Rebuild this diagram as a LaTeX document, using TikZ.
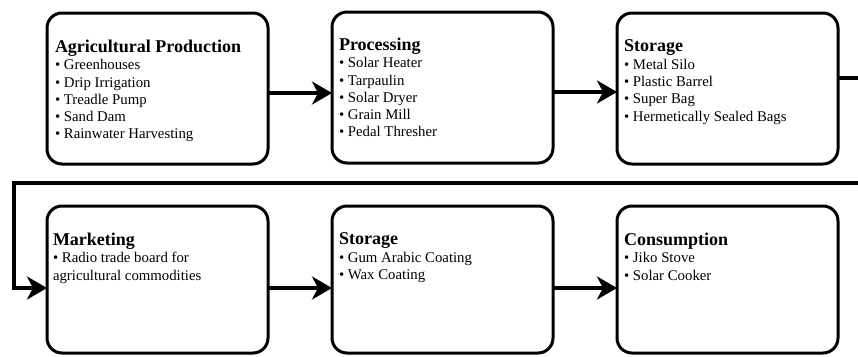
\documentclass[tikz,border=0pt]{standalone}
\usepackage{fontspec}
\setmainfont{Liberation Serif}
\usetikzlibrary{arrows.meta}
\begin{document}
\begin{tikzpicture}[x=1pt,y=-1pt,
  box/.style={draw=black, line width=3pt, rounded corners=15pt, minimum width=221pt,
    inner sep=0pt, outer sep=0pt, anchor=north west},
  toprow/.style={minimum height=151pt},
  botrow/.style={minimum height=147pt},
  boxtext/.style={anchor=north west, align=left, inner sep=0pt, outer sep=0pt,
    font=\fontsize{14.8}{17.3}\selectfont},
  ttl/.style={},
  conn/.style={line width=4.5pt, -{Stealth[length=20pt,width=23pt,inset=6pt]}}
]
\useasboundingbox (0,0) rectangle (858,356);
\fill[white] (0,0) rectangle (858,356);
\clip (0,0) rectangle (858,356);
\newcommand{\boxtitle}[1]{{\fontsize{18}{17.3}\selectfont\bfseries #1}}

% boxes
\node[box,toprow] (b1) at (47,13) {};
\node[box,toprow] (b2) at (332,12) {};
\node[box,toprow] (b3) at (617,13) {};
\node[box,botrow] (b4) at (47,206) {};
\node[box,botrow] (b5) at (332,206) {};
\node[box,botrow] (b6) at (617,206) {};

% texts
\node[boxtext] (t1) at ([xshift=8pt,yshift=-27pt]b1.north west)
  {\boxtitle{Agricultural Production}\\ • Greenhouses\\ • Drip Irrigation\\ • Treadle Pump\\ • Sand Dam\\ • Rainwater Harvesting};
\node[boxtext] (t2) at ([xshift=7pt,yshift=-26pt]b2.north west)
  {\boxtitle{Processing}\\ • Solar Heater\\ • Tarpaulin\\ • Solar Dryer\\ • Grain Mill\\ • Pedal Thresher};
\node[boxtext] (t3) at ([xshift=7pt,yshift=-27pt]b3.north west)
  {\boxtitle{Storage}\\ • Metal Silo\\ • Plastic Barrel\\ • Super Bag\\ • Hermetically Sealed Bags};
\node[boxtext] (t4) at ([xshift=6pt,yshift=-27pt]b4.north west)
  {\boxtitle{Marketing}\\ • Radio trade board for\\ agricultural commodities};
\node[boxtext] (t5) at ([xshift=7pt,yshift=-27pt]b5.north west)
  {\boxtitle{Storage}\\ • Gum Arabic Coating\\ • Wax Coating};
\node[boxtext] (t6) at ([xshift=7pt,yshift=-27pt]b6.north west)
  {\boxtitle{Consumption}\\ • Jiko Stove\\ • Solar Cooker};

% connectors
\coordinate (tr) at (880,183);
\coordinate (tl) at (14,183);
\draw[conn] ([yshift=-4.5pt]b1.east) -- ([yshift=-4.5pt]b1.east -| b2.west);
\draw[conn] ([yshift=-4.5pt]b2.east) -- ([yshift=-4.5pt]b2.east -| b3.west);
\draw[conn] ([yshift=10.5pt]b3.east) -| (tr) -- (tl) |- ([yshift=-8.5pt]b4.west);
\draw[conn] ([yshift=-8.5pt]b4.east) -- ([yshift=-8.5pt]b4.east -| b5.west);
\draw[conn] ([yshift=-8.5pt]b5.east) -- ([yshift=-8.5pt]b5.east -| b6.west);
\end{tikzpicture}
\end{document}
